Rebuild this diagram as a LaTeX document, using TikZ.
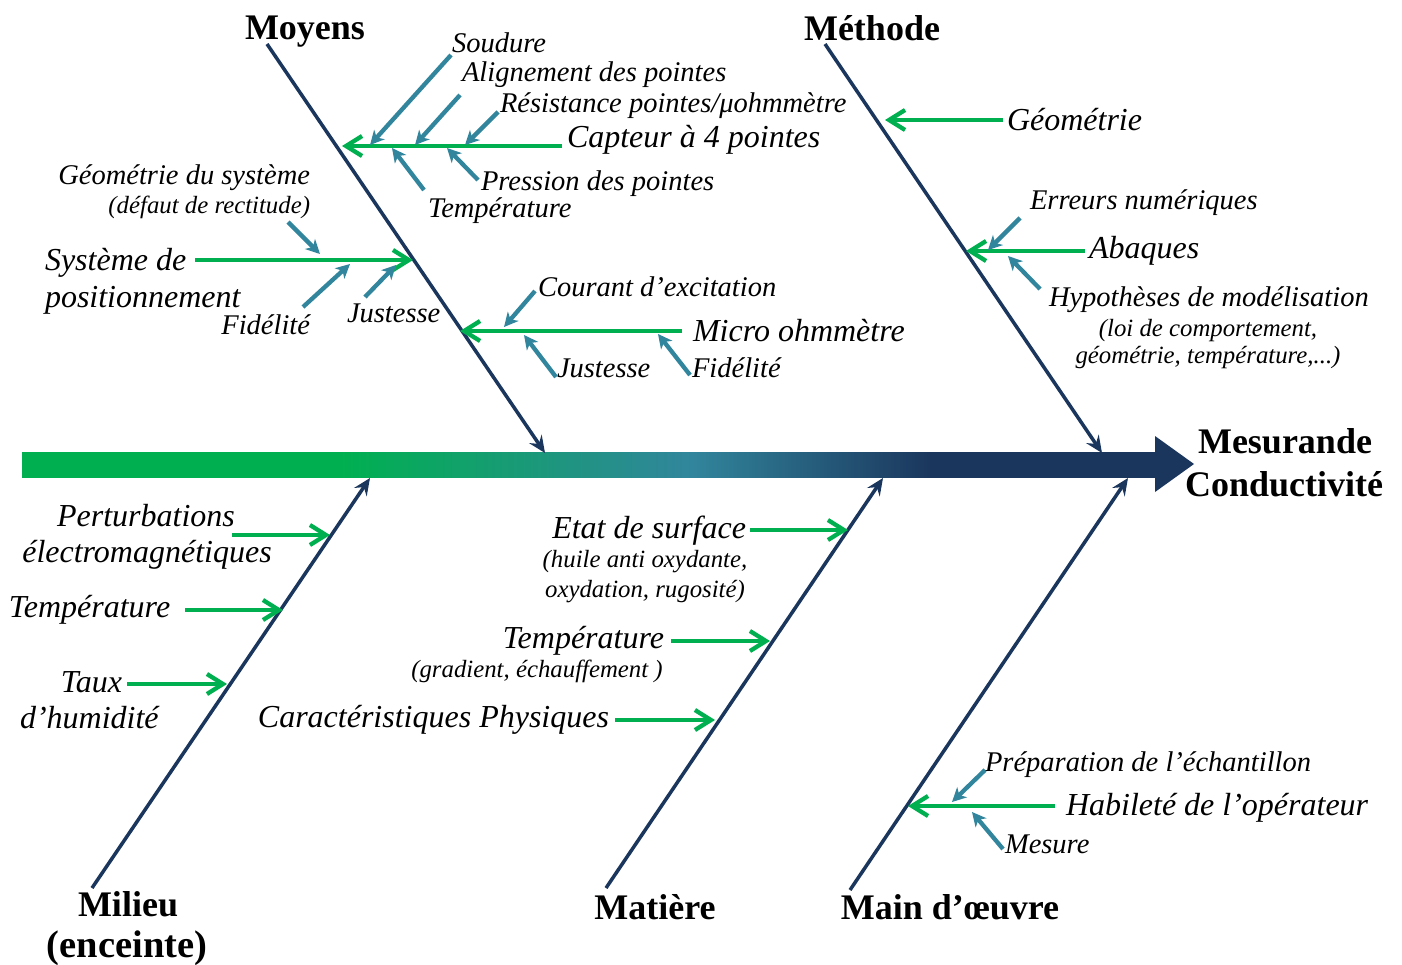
\documentclass[tikz,border=0pt]{standalone}
\usepackage{fontspec}
\setmainfont{Liberation Serif}
\usetikzlibrary{arrows.meta}
\definecolor{cgreen}{RGB}{0,176,80}
\definecolor{cteal}{RGB}{49,133,156}
\definecolor{cnavy}{RGB}{27,54,93}
\pgfdeclarehorizontalshading{spineshade}{100bp}{color(0bp)=(cgreen); color(39bp)=(cgreen); color(54.5bp)=(cteal); color(65bp)=(cnavy); color(100bp)=(cnavy)}
\newcommand\fbig{\fontsize{32}{36}\selectfont\itshape}
\newcommand\fmed{\fontsize{28.5}{32}\selectfont\itshape}
\newcommand\fsm{\fontsize{24.8}{28}\selectfont\itshape}
\newcommand\fhead{\fontsize{36}{42}\selectfont\bfseries}
\tikzset{
  txt/.style={inner sep=0pt, outer sep=0pt},
  head/.style={txt, font=\fhead, anchor=base},
  bone/.style={draw=cnavy, line width=3.5pt, -{Stealth[length=17pt,width=15pt,inset=6pt]}},
  garrow/.style={draw=cgreen, line width=4.3pt, -{Straight Barb[length=16pt,width=20pt]}},
  tarrow/.style={draw=cteal, line width=4.3pt, -{Stealth[length=14pt,width=14pt,inset=4pt]}},
}
\begin{document}
\begin{tikzpicture}[x=1pt,y=-1pt]
\fill[white] (0,0) rectangle (1402,964);
\useasboundingbox (0,0) rectangle (1402,964);

% ---------- spine ----------
\coordinate (spL) at (22,452);
\coordinate (spR) at (1158,477);
\shade[shading=spineshade] (spL) rectangle (spR);
\fill[cnavy] (1155,436) -- (1194,464) -- (1155,492) -- cycle;
\node[head] (mes) at (1285,453) {Mesurande};
\node[head] (cond) at (1284,496) {Conductivité};

% ---------- bones ----------
\coordinate (moyA) at (267,44);   \coordinate (moyB) at (545,453);
\coordinate (metA) at (825,44);   \coordinate (metB) at (1102,453);
\coordinate (milA) at (92,888);   \coordinate (milB) at (370,478);
\coordinate (matA) at (606,888);  \coordinate (matB) at (883,478);
\coordinate (mainA) at (850,890); \coordinate (mainB) at (1128,478);
\draw[bone] (moyA) -- (moyB);
\draw[bone] (metA) -- (metB);
\draw[bone] (milA) -- (milB);
\draw[bone] (matA) -- (matB);
\draw[bone] (mainA) -- (mainB);

\node[head] (hmoy) at (305,39) {Moyens};
\node[head] (hmet) at (872,40) {Méthode};
\node[head] (hmil) at (128,916) {Milieu};
\node[head, font=\fontsize{38.5}{42}\selectfont\bfseries] (hmil2) at (127,957) {(enceinte)};
\node[head] (hmat) at (655,919) {Matière};
\node[head] (hmain) at (950,919) {Main d’œuvre};

% ---------- Moyens : capteur ----------
\node[txt, font=\fbig, anchor=base west] (capt) at (567,147) {Capteur à 4 pointes};
\node[txt, font=\fmed, anchor=base west] (soud) at (452,52) {Soudure};
\node[txt, font=\fmed, anchor=base west] (alig) at (462,81) {Alignement des pointes};
\node[txt, font=\fmed, anchor=base west] (resi) at (500,112) {Résistance pointes/μohmmètre};
\node[txt, font=\fmed, anchor=base west] (pres) at (481,190) {Pression des pointes};
\node[txt, font=\fmed, anchor=base west] (temp1) at (428,217) {Température};
\coordinate (captS) at (562,146); \coordinate (captE) at (342,146);
\draw[garrow] (captS) -- (captE);
\coordinate (soudS) at (451,55);  \coordinate (soudE) at (370,145);
\coordinate (aligS) at (460,95);  \coordinate (aligE) at (415,145);
\coordinate (resiS) at (498,112); \coordinate (resiE) at (465,145);
\coordinate (presS) at (478,180); \coordinate (presE) at (447,148);
\coordinate (tempS) at (424,190); \coordinate (tempE) at (392,148);
\draw[tarrow] (soudS) -- (soudE);
\draw[tarrow] (aligS) -- (aligE);
\draw[tarrow] (resiS) -- (resiE);
\draw[tarrow] (presS) -- (presE);
\draw[tarrow] (tempS) -- (tempE);

% ---------- Moyens : positionnement ----------
\node[txt, font=\fmed, anchor=base east] (geos) at (310,184) {Géométrie du système};
\node[txt, font=\fsm, anchor=base east] (defa) at (310,213) {(défaut de rectitude)};
\node[txt, font=\fbig, anchor=base west] (sys1) at (45,270) {Système de};
\node[txt, font=\fbig, anchor=base west] (sys2) at (45,307) {positionnement};
\node[txt, font=\fmed, anchor=base east] (fid1) at (310,334) {Fidélité};
\node[txt, font=\fmed, anchor=base west] (jus1) at (347,322) {Justesse};
\coordinate (sysS) at (195,260); \coordinate (sysE) at (413,260);
\draw[garrow] (sysS) -- (sysE);
\coordinate (geoS) at (288,222); \coordinate (geoE) at (320,254);
\coordinate (fid1S) at (303,307); \coordinate (fid1E) at (350,264);
\coordinate (jus1S) at (365,297); \coordinate (jus1E) at (396,265);
\draw[tarrow] (geoS) -- (geoE);
\draw[tarrow] (fid1S) -- (fid1E);
\draw[tarrow] (jus1S) -- (jus1E);

% ---------- Moyens : micro ohmmetre ----------
\node[txt, font=\fbig, anchor=base west] (micro) at (693,341) {Micro ohmmètre};
\node[txt, font=\fmed, anchor=base west] (cour) at (538,296) {Courant d’excitation};
\node[txt, font=\fmed, anchor=base west] (jus2) at (557,377) {Justesse};
\node[txt, font=\fmed, anchor=base west] (fid2) at (692,377) {Fidélité};
\coordinate (microS) at (682,331); \coordinate (microE) at (460,331);
\draw[garrow] (microS) -- (microE);
\coordinate (courS) at (535,291); \coordinate (courE) at (504,327);
\coordinate (jus2S) at (556,377); \coordinate (jus2E) at (524,335);
\coordinate (fid2S) at (690,375); \coordinate (fid2E) at (658,334);
\draw[tarrow] (courS) -- (courE);
\draw[tarrow] (jus2S) -- (jus2E);
\draw[tarrow] (fid2S) -- (fid2E);

% ---------- Methode ----------
\node[txt, font=\fbig, anchor=base west] (geom) at (1007,130) {Géométrie};
\node[txt, font=\fmed, anchor=base west] (erre) at (1030,209) {Erreurs numériques};
\node[txt, font=\fbig, anchor=base west] (abaq) at (1089,258) {Abaques};
\node[txt, font=\fmed, anchor=base west] (hypo) at (1049,306) {Hypothèses de modélisation};
\node[txt, font=\fsm, anchor=base] (hypo2) at (1208,336) {(loi de comportement,};
\node[txt, font=\fsm, anchor=base] (hypo3) at (1208,363) {géométrie, température,...)};
\coordinate (geomS) at (1003,120); \coordinate (geomE) at (885,120);
\coordinate (abaqS) at (1085,251); \coordinate (abaqE) at (966,251);
\draw[garrow] (geomS) -- (geomE);
\draw[garrow] (abaqS) -- (abaqE);
\coordinate (erreS) at (1020,218); \coordinate (erreE) at (988,250);
\coordinate (hypoS) at (1040,289); \coordinate (hypoE) at (1008,256);
\draw[tarrow] (erreS) -- (erreE);
\draw[tarrow] (hypoS) -- (hypoE);

% ---------- Milieu ----------
\node[txt, font=\fbig, anchor=base] (pert1) at (146,526) {Perturbations};
\node[txt, font=\fbig, anchor=base] (pert2) at (147,562) {électromagnétiques};
\node[txt, font=\fbig, anchor=base west] (temp2) at (9,617) {Température};
\node[txt, font=\fbig, anchor=base east] (taux) at (122,692) {Taux};
\node[txt, font=\fbig, anchor=base west] (humi) at (20,728) {d’humidité};
\coordinate (pertS) at (232,535); \coordinate (pertE) at (330,535);
\coordinate (temp2S) at (185,610); \coordinate (temp2E) at (283,610);
\coordinate (tauxS) at (127,684); \coordinate (tauxE) at (227,684);
\draw[garrow] (pertS) -- (pertE);
\draw[garrow] (temp2S) -- (temp2E);
\draw[garrow] (tauxS) -- (tauxE);

% ---------- Matiere ----------
\node[txt, font=\fbig, anchor=base east] (etat) at (746,538) {Etat de surface};
\node[txt, font=\fsm, anchor=base] (etat2) at (645,567) {(huile anti oxydante,};
\node[txt, font=\fsm, anchor=base] (etat3) at (645,597) {oxydation, rugosité)};
\node[txt, font=\fbig, anchor=base east] (temp3) at (664,648) {Température};
\node[txt, font=\fsm, anchor=base] (grad) at (537,677) {(gradient, échauffement )};
\node[txt, font=\fbig, anchor=base east] (cara) at (609,727) {Caractéristiques Physiques};
\coordinate (etatS) at (750,530); \coordinate (etatE) at (848,530);
\coordinate (temp3S) at (671,641); \coordinate (temp3E) at (770,641);
\coordinate (caraS) at (615,720); \coordinate (caraE) at (715,720);
\draw[garrow] (etatS) -- (etatE);
\draw[garrow] (temp3S) -- (temp3E);
\draw[garrow] (caraS) -- (caraE);

% ---------- Main d'oeuvre ----------
\node[txt, font=\fmed, anchor=base west] (prep) at (985,771) {Préparation de l’échantillon};
\node[txt, font=\fbig, anchor=base west] (habi) at (1066,815) {Habileté de l’opérateur};
\node[txt, font=\fmed, anchor=base west] (mesu) at (1005,853) {Mesure};
\coordinate (habiS) at (1055,806); \coordinate (habiE) at (908,806);
\draw[garrow] (habiS) -- (habiE);
\coordinate (prepS) at (985,770); \coordinate (prepE) at (952,802);
\coordinate (mesuS) at (1003,849); \coordinate (mesuE) at (972,812);
\draw[tarrow] (prepS) -- (prepE);
\draw[tarrow] (mesuS) -- (mesuE);
\end{tikzpicture}
\end{document}
